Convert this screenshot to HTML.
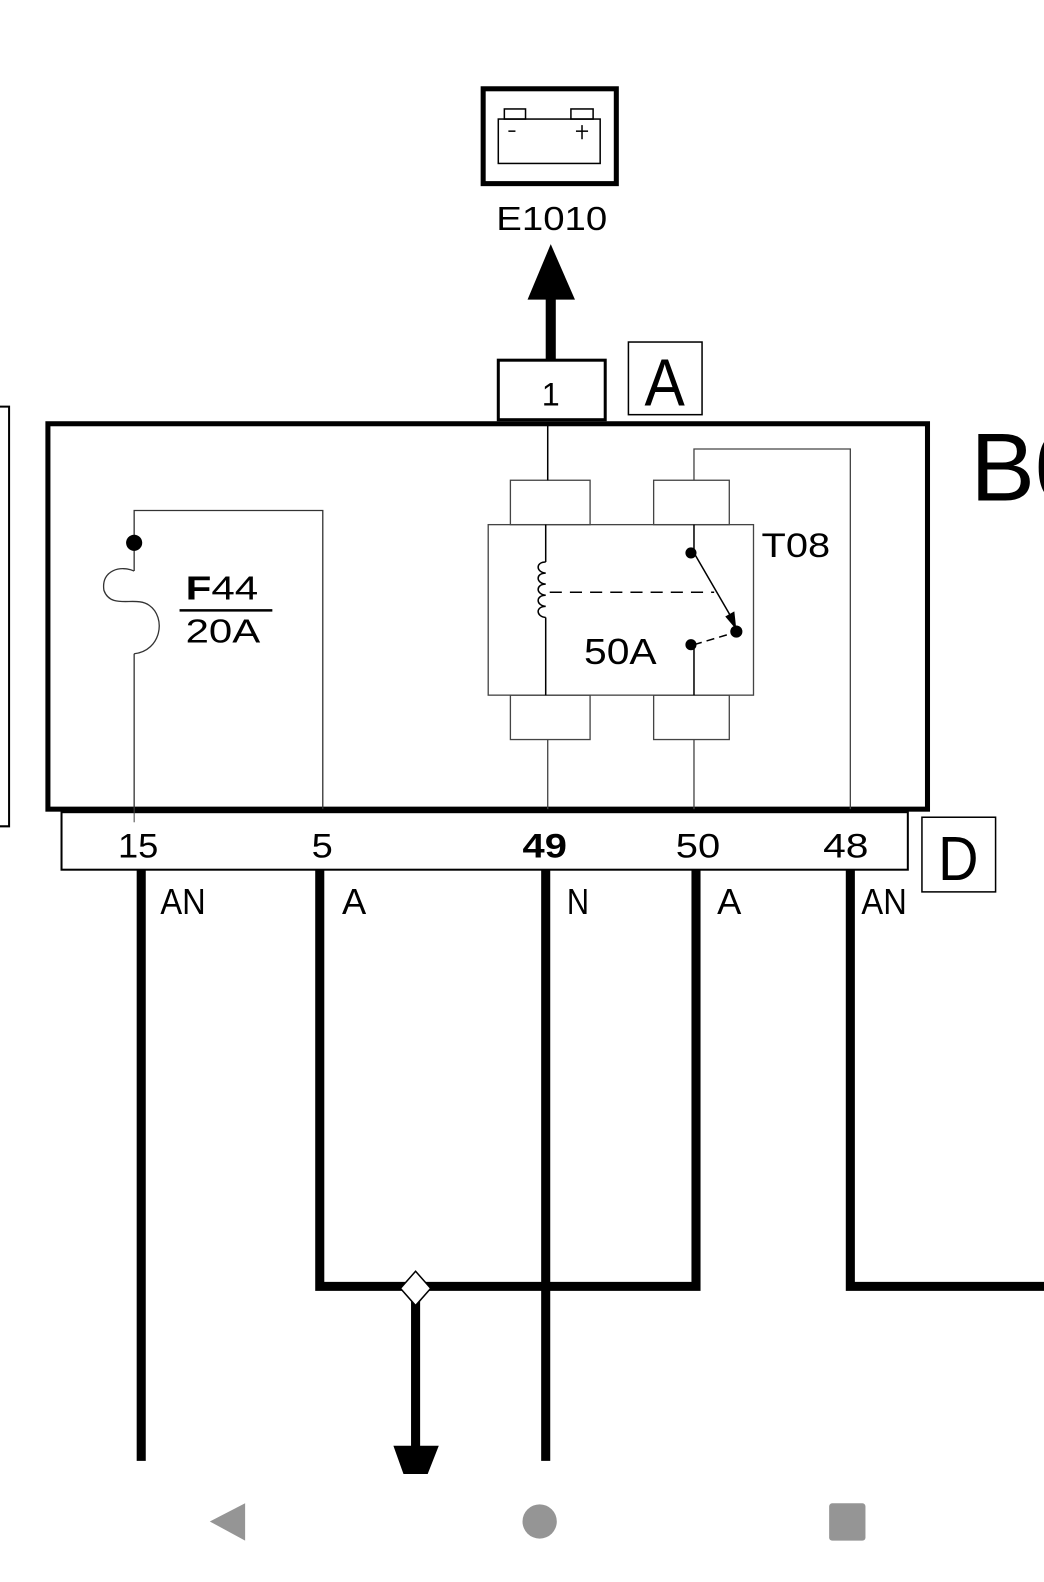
<!DOCTYPE html>
<html><head><meta charset="utf-8">
<style>
html,body{margin:0;padding:0;background:#fff;}
svg{display:block;}
text{font-family:"Liberation Sans",sans-serif;fill:#000;}
</style></head>
<body>
<svg width="1044" height="1582" viewBox="0 0 1035 1568" preserveAspectRatio="none" xmlns="http://www.w3.org/2000/svg">
<rect width="1035" height="1568" fill="#fff"/>
<!-- battery -->
<rect x="479" y="88" width="132" height="94" fill="none" stroke="#000" stroke-width="5"/>
<rect x="494" y="118" width="101" height="44" fill="none" stroke="#000" stroke-width="1.5"/>
<rect x="500" y="108" width="21" height="10" fill="none" stroke="#000" stroke-width="1.5"/>
<rect x="566" y="108" width="22" height="10" fill="none" stroke="#000" stroke-width="1.5"/>
<line x1="504" y1="130" x2="511" y2="130" stroke="#000" stroke-width="1.5"/>
<line x1="571" y1="130" x2="583" y2="130" stroke="#000" stroke-width="1.5"/>
<line x1="577" y1="124" x2="577" y2="138" stroke="#000" stroke-width="1.5"/>
<text x="547" y="228" font-size="33" text-anchor="middle" textLength="110" lengthAdjust="spacingAndGlyphs">E1010</text>
<!-- arrow up -->
<polygon points="546,242 523,297 570,297" fill="#000"/>
<rect x="541" y="295" width="10" height="62" fill="#000"/>
<!-- connector 1 -->
<rect x="494" y="357" width="106" height="59" fill="#fff" stroke="#000" stroke-width="3"/>
<text x="546" y="402" font-size="32" text-anchor="middle">1</text>
<rect x="623" y="339" width="73" height="72" fill="none" stroke="#000" stroke-width="1.5"/>
<text x="659" y="402" font-size="66" text-anchor="middle" textLength="40" lengthAdjust="spacingAndGlyphs">A</text>
<!-- left thin box -->
<polyline points="0,403 9,403 9,819 0,819" fill="none" stroke="#000" stroke-width="2"/>
<!-- main box -->
<rect x="47.5" y="420" width="872" height="382" fill="none" stroke="#000" stroke-width="5"/>
<text x="962" y="496" font-size="96">B0</text>
<!-- fuse -->
<g stroke="#333" stroke-width="1.3" fill="none">
<polyline points="133,802 133,648"/>
<path d="M133,648 C160,645 165,612 148,600 C135,590 110,605 103,585 C100,565 120,560 133,566"/>
<polyline points="133,566 133,506 320,506 320,802"/>
</g>
<circle cx="133" cy="538" r="8" fill="#000"/>
<text x="184" y="594" font-size="33" textLength="72" lengthAdjust="spacingAndGlyphs"><tspan font-weight="bold">F</tspan>44</text>
<line x1="178" y1="605" x2="270" y2="605" stroke="#000" stroke-width="2.5"/>
<text x="184" y="637" font-size="33" textLength="74" lengthAdjust="spacingAndGlyphs">20A</text>
<!-- relay -->
<g stroke="#444" stroke-width="1.3" fill="none">
<rect x="484" y="520" width="263" height="169"/>
<rect x="506" y="476" width="79" height="44"/>
<rect x="648" y="476" width="75" height="44"/>
<rect x="506" y="689" width="79" height="44"/>
<rect x="648" y="689" width="75" height="44"/>
<polyline points="688,476 688,445 843,445 843,802"/>
<line x1="543" y1="733" x2="543" y2="802"/>
<line x1="688" y1="733" x2="688" y2="802"/>
</g>
<g stroke="#000" stroke-width="1.5" fill="none">
<line x1="543" y1="420" x2="543" y2="476"/>
<line x1="541" y1="520" x2="541" y2="557"/>
<path d="M541,557 c-10,0 -10,10 0,11 c-10,0 -10,10 0,11 c-10,0 -10,10 0,11 c-10,0 -10,10 0,11 c-10,0 -10,10 0,11"/>
<line x1="541" y1="612" x2="541" y2="689"/>
<line x1="545" y1="587" x2="708" y2="587" stroke-dasharray="12,8"/>
<line x1="688" y1="520" x2="688" y2="548"/>
<line x1="688" y1="548" x2="724" y2="610"/>
<line x1="688" y1="639" x2="728" y2="627" stroke-dasharray="8,5"/>
<line x1="688" y1="639" x2="688" y2="689"/>
</g>
<polygon points="730,624 719,611 728,606" fill="#000"/>
<circle cx="685" cy="548" r="5.5" fill="#000"/>
<circle cx="730" cy="626" r="6" fill="#000"/>
<circle cx="685" cy="639" r="5.5" fill="#000"/>
<text x="755" y="552" font-size="34" textLength="68" lengthAdjust="spacingAndGlyphs">T08</text>
<text x="579" y="658" font-size="36" textLength="72" lengthAdjust="spacingAndGlyphs">50A</text>
<!-- connector D -->
<rect x="61" y="805" width="839" height="57" fill="#fff" stroke="#000" stroke-width="2"/>
<line x1="133" y1="802" x2="133" y2="815" stroke="#444" stroke-width="1"/>
<g font-size="34">
<text x="117" y="850" textLength="40" lengthAdjust="spacingAndGlyphs">15</text>
<text x="309" y="850" textLength="21" lengthAdjust="spacingAndGlyphs">5</text>
<text x="518" y="850" textLength="44" lengthAdjust="spacingAndGlyphs" font-weight="bold">49</text>
<text x="670" y="850" textLength="44" lengthAdjust="spacingAndGlyphs">50</text>
<text x="816" y="850" textLength="45" lengthAdjust="spacingAndGlyphs">48</text>
</g>
<rect x="914" y="810" width="73" height="74" fill="none" stroke="#000" stroke-width="1.5"/>
<text x="950" y="872" font-size="62" text-anchor="middle" textLength="40" lengthAdjust="spacingAndGlyphs">D</text>
<!-- wires -->
<g stroke="#000" stroke-width="9" fill="none">
<line x1="140" y1="862" x2="140" y2="1448"/>
<polyline points="317,862 317,1275 690,1275 690,862"/>
<line x1="541" y1="862" x2="541" y2="1448"/>
<polyline points="843,862 843,1275 1035,1275"/>
<line x1="412" y1="1280" x2="412" y2="1436"/>
</g>
<polygon points="390,1433 435,1433 424,1461 400,1461" fill="#000"/>
<polygon points="412,1260 427,1277 412,1294 397,1277" fill="#fff" stroke="#000" stroke-width="1.5"/>
<g font-size="36">
<text x="159" y="906" textLength="45" lengthAdjust="spacingAndGlyphs">AN</text>
<text x="339" y="906" textLength="24" lengthAdjust="spacingAndGlyphs">A</text>
<text x="562" y="906" textLength="22" lengthAdjust="spacingAndGlyphs">N</text>
<text x="711" y="906" textLength="24" lengthAdjust="spacingAndGlyphs">A</text>
<text x="854" y="906" textLength="45" lengthAdjust="spacingAndGlyphs">AN</text>
</g>
<!-- nav bar -->
<polygon points="243,1490 243,1527 208,1508" fill="#959595"/>
<circle cx="535" cy="1508" r="17" fill="#959595"/>
<rect x="822" y="1490" width="36" height="37" rx="3" fill="#959595"/>
</svg>
</body></html>
